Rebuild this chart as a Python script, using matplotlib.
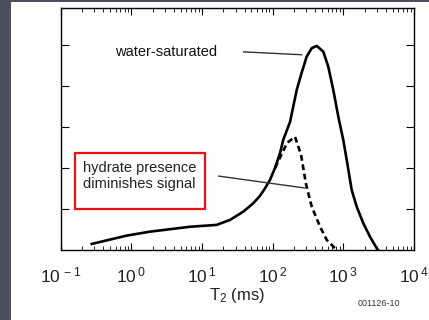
import numpy as np
import matplotlib
matplotlib.use('Agg')
import matplotlib.pyplot as plt
from matplotlib.patches import Rectangle

plt.rcParams['font.family'] = ['Liberation Sans', 'DejaVu Sans']
plt.rcParams['mathtext.default'] = 'regular'

# water-saturated T2 distribution (T2 in ms, amplitude)
t2_water = [0.275, 0.859, 1.84, 2.54, 3.52, 6.76, 16.1, 24.9, 38.4, 53.2, 66.2, 77.8,
            91.6, 108, 127, 141, 176, 219, 258, 303, 357, 420, 520, 612, 721, 849,
            998, 1117, 1313, 1545, 1916, 2383, 2965, 3097]
amp_water = [0.146, 0.349, 0.446, 0.475, 0.505, 0.565, 0.610, 0.732, 0.934, 1.139, 1.320, 1.500,
             1.707, 2.000, 2.359, 2.683, 3.120, 3.902, 4.330, 4.715, 4.920, 4.976, 4.837, 4.471,
             3.902, 3.251, 2.683, 2.195, 1.463, 1.056, 0.651, 0.324, 0.041, 0.0]

# hydrate-bearing T2 distribution
t2_hydrate = [108, 127, 160, 207, 252, 296, 357, 468, 582, 762, 839]
amp_hydrate = [2.00, 2.25, 2.61, 2.76, 2.32, 1.61, 1.056, 0.569, 0.244, 0.041, 0.0]

xticks = [0.1, 1, 10, 100, 1000, 10000]
xtick_labels = ['10$^{\\,-1}$', '10$^{\\,0}$', '10$^{\\,1}$', '10$^{\\,2}$', '10$^{\\,3}$', '10$^{\\,4}$']

fig = plt.figure(figsize=(4.29, 3.20), dpi=100)
fig.patch.set_facecolor('white')
fig.patches.append(Rectangle((0, 0), 11 / 429, 1, transform=fig.transFigure,
                             facecolor='#4b4f5e', edgecolor='none', zorder=-1))
fig.patches.append(Rectangle((0, 1 - 2 / 320), 1, 2 / 320, transform=fig.transFigure,
                             facecolor='#4b4f5e', edgecolor='none', zorder=-1))

ax = fig.add_axes([0.1415, 0.219, 0.8235, 0.756])
ax.plot(t2_water, amp_water, color='black', lw=1.9, solid_joinstyle='round')
ax.plot(t2_hydrate, amp_hydrate, color='black', lw=1.9, dashes=(2.2, 1.4))

ax.set_xscale('log')
ax.set_xlim(0.1, 1e4)
ax.set_ylim(0, 5.9)
ax.set_xticks(xticks)
ax.set_xticklabels(xtick_labels)
ax.set_yticks([1, 2, 3, 4, 5])
ax.tick_params(axis='both', which='both', direction='in', top=True, right=True, labelleft=False)
ax.tick_params(axis='y', which='major', length=6)
ax.tick_params(axis='x', which='major', length=5, labelsize=12.5, pad=11, labelcolor='#222222')
ax.tick_params(axis='x', which='minor', length=3)
for s in ax.spines.values():
    s.set_linewidth(1.0)

ax.set_xlabel('T$_2$ (ms)', fontsize=12, labelpad=1, color='#222222')

ax.text(0.586, 4.83, 'water-saturated', fontsize=10.5, va='center', ha='left', color='#111111')
ax.plot([38.9, 257], [4.83, 4.76], color='#333333', lw=1.0)

ax.text(1.30, 1.80, 'hydrate presence\ndiminishes signal', fontsize=10.5,
        va='center', ha='center', linespacing=1.2, color='#222222')
ax.add_patch(Rectangle((0.040, 0.169), 0.368, 0.231, transform=ax.transAxes,
                       fill=False, edgecolor='#ee1111', lw=1.6, clip_on=False))
ax.plot([17.3, 285], [1.80, 1.51], color='#333333', lw=1.0)

fig.text(379 / 429, 1 - 303 / 320, '001126-10', fontsize=6.5, ha='center', va='center',
         color='#333333')

fig.savefig('out.png', dpi=100)
